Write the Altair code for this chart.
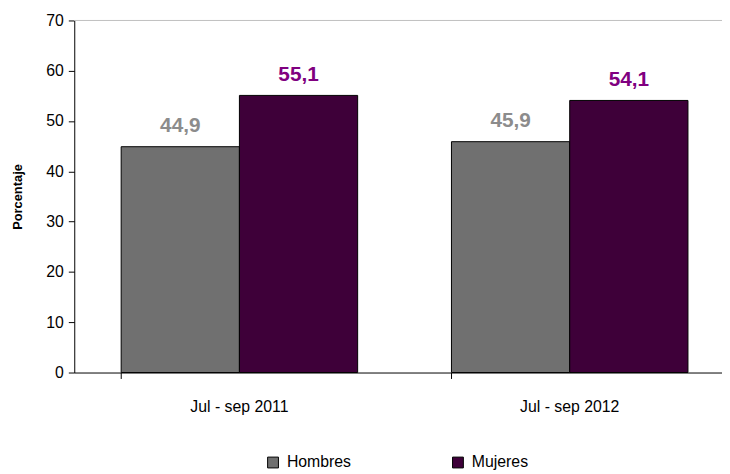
import altair as alt
import pandas as pd

periods = ["Jul - sep 2011", "Jul - sep 2012"]
sexes = ["Hombres", "Mujeres"]
hombres = [44.9, 45.9]
mujeres = [55.1, 54.1]

rows = []
for i, p in enumerate(periods):
    rows.append({"periodo": p, "sexo": "Hombres", "valor": hombres[i]})
    rows.append({"periodo": p, "sexo": "Mujeres", "valor": mujeres[i]})
df = pd.DataFrame(rows)

FONT = "Liberation Sans"

x = alt.X("periodo:N", sort=periods, title=None,
          scale=alt.Scale(range=[0, 668], paddingInner=0.284, paddingOuter=0.142),
          axis=alt.Axis(labelAngle=0, labelFontSize=16, labelColor="#000000",
                        labelPadding=20, domainColor="#000000", tickColor="#000000",
                        tickSize=6, bandPosition=0, labelFont=FONT))
xo = alt.XOffset("sexo:N", sort=sexes, scale=alt.Scale(paddingInner=0, paddingOuter=0))

bars = alt.Chart(df).mark_bar(stroke="#000000", strokeWidth=1).encode(
    x=x,
    xOffset=xo,
    y=alt.Y("valor:Q", title="Porcentaje",
            scale=alt.Scale(domain=[0, 70], nice=False),
            axis=alt.Axis(values=[0, 10, 20, 30, 40, 50, 60, 70], grid=False,
                          labelFontSize=16, labelColor="#000000", labelFont=FONT,
                          domainColor="#000000", tickColor="#000000", tickSize=6,
                          labelPadding=5, titleFontSize=13, titleFont=FONT,
                          titleFontWeight="bold", titleColor="#000000", titlePadding=22)),
    color=alt.Color("sexo:N", sort=sexes,
                    scale=alt.Scale(domain=sexes, range=["#707070", "#3e0039"]),
                    legend=alt.Legend(title=None, orient="none", direction="horizontal",
                                      legendX=193, legendY=439, symbolType="square",
                                      symbolSize=120, symbolStrokeColor="#000000",
                                      symbolStrokeWidth=1, labelFontSize=16, labelFont=FONT,
                                      labelColor="#000000", columnPadding=100,
                                      symbolOffset=0, labelOffset=6)),
)

labels = alt.Chart(df).transform_calculate(
    lbl="replace(format(datum.valor, '.1f'), '.', ',')"
).mark_text(baseline="alphabetic", dy=-15, fontSize=21, fontWeight="bold", font=FONT).encode(
    x=x,
    xOffset=xo,
    y=alt.Y("valor:Q"),
    text="lbl:N",
    color=alt.Color("sexo:N", sort=sexes,
                    scale=alt.Scale(domain=sexes, range=["#8c8c8c", "#800080"]),
                    legend=None),
)

top = alt.Chart(pd.DataFrame({"y": [70]})).mark_rule(color="#c0c0c0", strokeWidth=1).encode(
    y=alt.Y("y:Q")
)

chart = alt.layer(bars, labels, top).resolve_scale(color="independent").properties(
    width=655, height=356,
    autosize=alt.AutoSizeParams(type="none"),
    padding={"left": 67, "top": 10, "right": 0, "bottom": 100},
).configure_view(stroke=None)

chart.save("out.html", embed_options={"renderer": "svg", "actions": False})
